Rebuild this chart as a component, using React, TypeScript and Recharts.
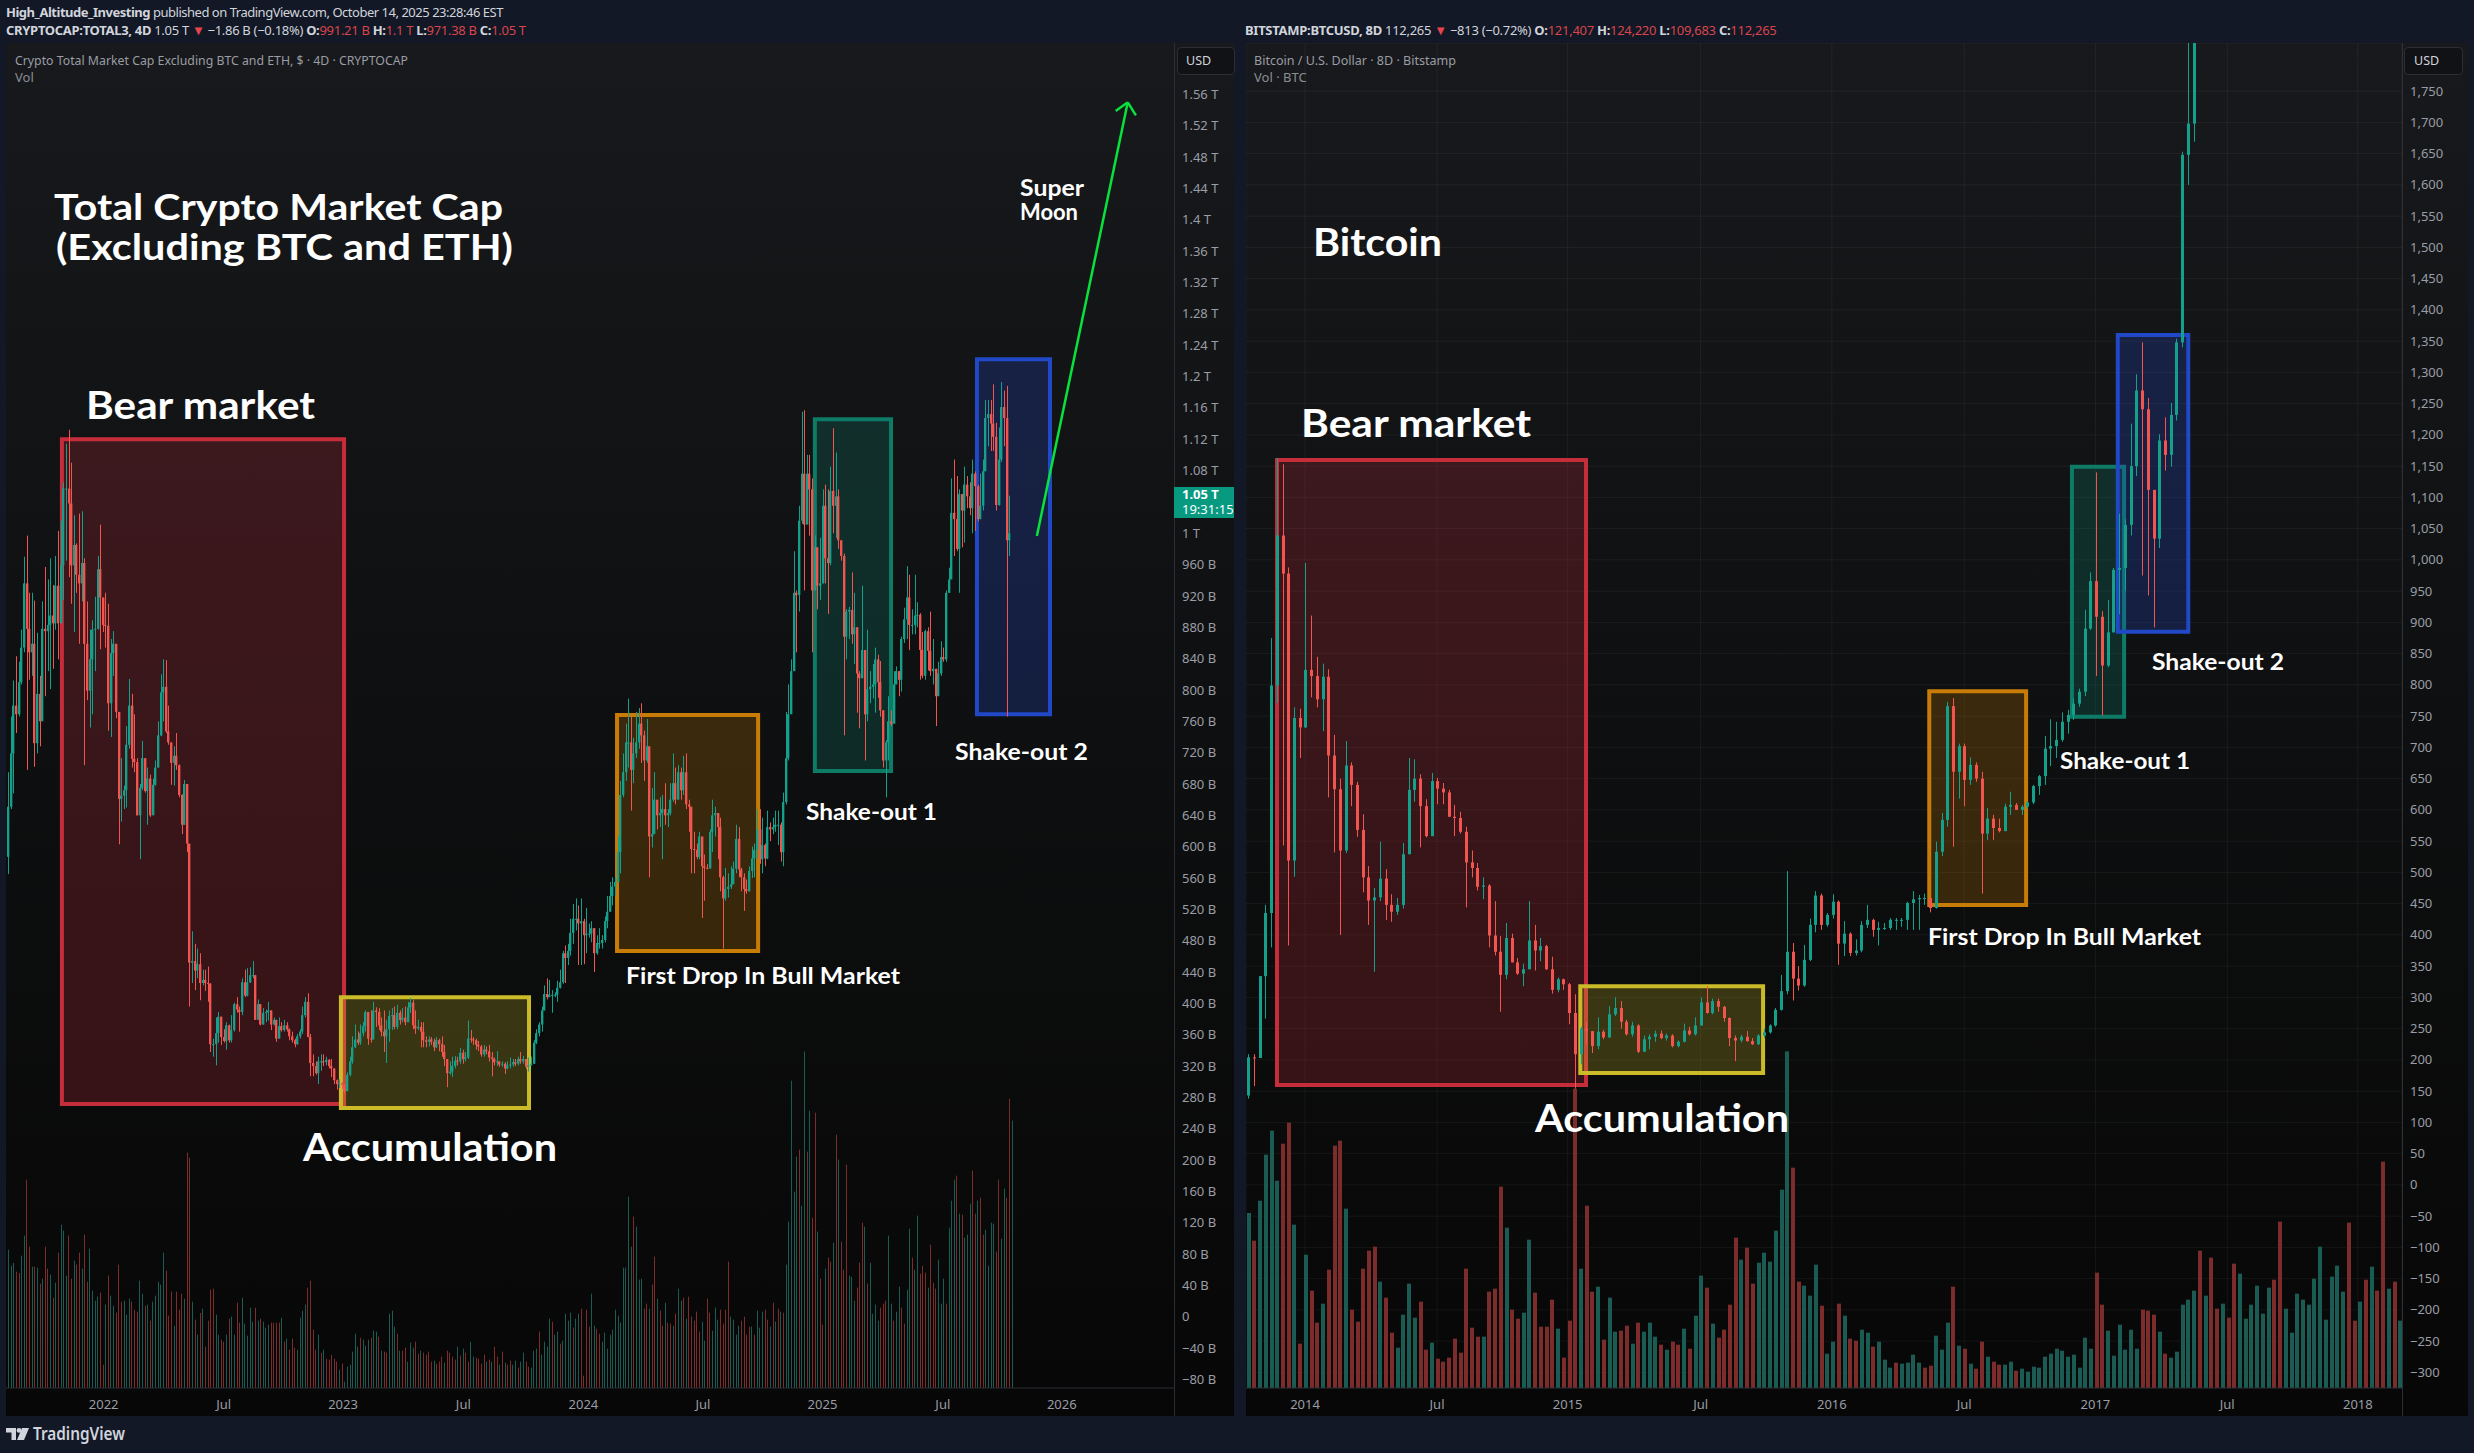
import { Bar, CartesianGrid, ComposedChart, ReferenceArea, ReferenceLine, XAxis, YAxis } from 'recharts';

// TOTAL3, 4D candles, values in $B. Open of a bar is the close of the one before it.
const total3FirstOpen = 587;
const total3Close = [
  651,719,780,769,810,854,936,878,848,859,732,795,760,878,875,883,895,885,933,885,
  959,1057,1057,1038,959,985,947,936,962,859,799,839,877,878,954,918,883,882,783,847,
  859,772,661,665,672,730,780,712,708,640,675,713,671,687,640,679,701,742,797,804,
  747,733,707,716,704,666,628,680,604,452,454,442,450,426,430,426,425,348,348,362,
  383,357,352,372,353,366,399,392,389,427,410,427,436,436,379,399,373,388,389,391,
  373,379,355,371,366,372,367,358,353,348,358,364,385,402,357,324,320,311,326,326,
  325,328,320,317,302,297,298,296,288,309,326,344,354,350,362,371,389,355,354,391,
  389,372,364,358,367,384,385,370,388,379,382,376,395,401,372,368,370,364,353,351,
  354,351,344,353,348,338,329,311,313,320,327,326,337,329,331,355,354,353,347,345,
  335,341,339,331,329,325,326,322,323,317,321,322,325,323,329,326,329,319,321,323,
  350,362,373,391,412,408,411,411,411,420,427,464,458,467,490,508,508,502,505,487,
  489,489,496,464,477,477,481,505,517,537,549,555,593,666,695,733,733,698,719,733,
  757,742,710,728,613,616,660,640,643,648,640,643,660,681,660,695,672,695,654,651,
  597,596,587,613,575,573,572,619,640,643,625,561,534,546,549,552,572,610,571,561,
  546,543,569,585,596,622,584,602,585,625,622,625,628,628,593,657,713,769,824,924,
  921,1016,1076,1011,1076,1056,927,982,933,936,1035,968,962,1054,1035,1047,991,971,868,900,
  902,871,880,821,815,851,769,801,804,807,839,810,774,710,733,760,757,807,824,813,
  865,890,918,883,883,895,896,851,818,875,850,824,827,792,821,842,839,924,941,1026,
  1018,980,1050,1029,1062,1047,1032,1076,1060,1018,1035,1079,1147,1152,1140,1123,1036,1094,1161,1147,
  991,1000,
];
const total3High = [
  695,766,812,843,836,877,970,997,924,924,914,873,818,913,957,941,968,934,971,1003,
  1016,1065,1114,1132,1090,1023,987,1025,1028,968,913,877,889,919,971,1011,918,924,910,865,
  875,855,760,713,678,754,814,795,769,713,680,735,713,701,692,687,710,760,820,839,
  838,780,733,728,745,705,667,685,680,603,492,476,470,464,443,443,447,426,355,382,
  389,383,367,376,373,385,401,408,396,432,443,445,446,454,436,405,399,394,392,402,
  391,382,379,382,376,379,376,368,364,355,361,367,396,408,413,361,335,326,332,335,
  335,332,329,329,317,303,303,300,297,312,332,358,373,364,373,376,391,389,391,402,
  395,394,382,391,379,391,394,396,398,391,394,396,402,407,405,391,379,376,376,358,
  358,357,355,357,355,358,347,329,326,332,333,332,343,341,338,378,366,357,355,352,
  347,347,345,347,338,331,339,326,326,325,326,331,329,329,332,338,333,329,331,332,
  353,367,376,396,423,432,430,417,414,429,443,467,474,476,508,527,534,525,534,508,
  522,502,505,496,487,496,487,511,537,555,561,561,613,684,719,757,789,766,739,772,
  777,783,748,763,728,675,695,657,663,666,681,648,681,719,701,704,701,716,719,660,
  637,619,604,619,587,590,578,622,660,651,640,637,563,573,566,575,581,628,625,573,
  566,558,575,600,604,648,648,637,604,646,631,637,646,646,631,669,772,807,839,977,
  927,1035,1155,1157,1100,1100,1070,997,982,994,1056,1062,1056,1085,1134,1103,1056,991,974,903,
  906,950,924,880,824,933,851,877,824,833,854,845,837,774,736,792,774,824,830,824,
  868,905,958,947,903,947,912,898,874,877,880,900,865,827,836,862,854,927,956,1070,
  1094,1073,1056,1032,1085,1073,1065,1094,1079,1062,1076,1094,1170,1170,1170,1190,1141,1135,1193,1182,
  1188,1048,
];
const total3Low = [
  565,648,668,745,766,807,848,698,813,818,702,719,728,795,792,824,801,827,877,839,
  899,915,965,944,910,874,924,859,913,704,787,752,769,824,877,852,874,854,748,740,
  818,764,603,632,648,650,725,701,695,640,584,672,669,628,638,643,678,701,741,760,
  745,730,679,678,698,663,616,628,593,396,426,417,432,404,423,416,402,338,332,321,
  350,347,350,341,350,350,364,388,364,385,408,409,426,432,379,384,372,373,376,378,
  366,372,351,355,364,364,364,353,350,344,347,355,361,382,357,307,307,309,297,314,
  320,321,317,306,297,290,292,291,285,288,307,323,343,347,347,358,364,347,350,354,
  370,366,358,338,324,351,366,367,367,373,376,372,378,388,367,361,366,344,344,344,
  345,347,339,343,339,332,320,293,309,306,317,321,323,323,326,329,350,347,341,339,
  332,332,335,326,307,321,320,319,319,310,316,317,319,320,321,323,323,316,313,321,
  323,348,358,364,391,405,408,388,408,402,419,425,426,449,461,476,493,449,449,450,
  464,484,478,440,462,470,470,478,496,517,525,537,555,566,663,684,701,646,681,713,
  725,707,684,707,561,599,622,622,625,584,628,625,640,657,654,666,660,666,648,619,
  566,566,584,584,509,531,571,596,593,613,584,543,470,531,535,546,555,566,561,543,
  518,540,543,560,561,584,578,566,575,584,607,616,619,602,581,575,654,710,780,824,
  848,900,1012,927,1035,997,848,927,903,915,936,936,897,959,1000,994,980,965,742,839,
  865,859,833,771,751,815,710,760,783,789,771,790,766,701,663,710,754,757,810,792,
  798,860,865,851,871,871,880,813,815,813,825,818,807,754,818,818,836,836,924,953,
  971,977,924,982,988,1032,1023,1000,1003,1015,1018,1029,1094,1111,1105,1105,1029,1035,1091,1111,
  766,971,
];
const total3Volume = [
  415,367,375,349,345,397,457,625,424,364,364,361,313,328,424,358,340,271,316,406,
  490,472,337,457,328,382,370,406,358,460,319,418,292,262,274,286,70,250,337,277,
  247,226,370,259,262,220,268,259,235,229,322,283,247,250,202,259,277,319,310,406,
  352,217,289,187,289,235,283,268,706,691,259,205,160,225,238,124,202,295,298,220,
  160,145,139,160,208,214,160,256,196,271,193,157,241,199,241,202,208,199,181,190,
  196,196,196,196,211,139,148,115,148,121,115,211,232,250,301,322,175,115,160,106,
  115,88,85,100,88,79,55,73,19,64,70,109,163,124,151,145,127,145,151,
  172,169,154,112,109,106,223,232,184,163,112,112,121,79,136,121,139,103,112,106,
  100,109,79,82,73,79,94,76,112,106,94,85,124,97,118,106,79,139,94,91,
  88,73,100,79,85,79,124,94,70,109,76,70,82,
  70,82,61,79,106,79,64,61,112,118,169,100,139,124,208,199,160,169,133,142,
  223,202,226,181,208,223,238,37,235,184,283,187,178,163,139,166,118,160,175,235,
  217,196,361,361,574,424,514,484,325,328,238,253,238,310,394,268,232,187,256,196,
  193,187,223,298,262,271,208,274,214,202,229,169,199,142,268,226,172,241,205,235,
  193,235,379,214,205,160,187,202,214,160,184,184,160,232,181,229,235,205,184,
  256,199,238,229,226,370,499,922,589,694,715,547,1009,709,832,511,826,469,328,190,358,391,379,436,760,
  685,439,355,670,337,334,262,301,376,496,484,313,376,223,250,202,241,253,262,457,
  253,202,229,304,241,193,295,478,391,355,517,343,367,346,301,430,316,298,385,253,
  328,253,481,562,625,637,523,520,451,460,553,652,523,562,571,460,475,367,496,493,
  409,625,448,598,571,868,802,
];
// g = up bar, r = down bar
const total3VolumeDir =
  'gggrrggrrg' + 'rgrgrrgrgr' + 'gggrrgrrgr' + 'rggggrrgrg' + 'grrrgggrrr' + 'ggrgrggggg' + 'rrrgrrrgrr' +
  'grgrgrrrrg' + 'grrgrggrrg' + 'ggggrgrggg' + 'rrrrgrgrrr' + 'ggggrrrrgr' + 'grrrrrgrgg' + 'ggggrgggr' +
  'ggrgrrgggr' + 'grrgggrrgr' + 'rrrgrrrgrr' + 'rrgrgrrggr' + 'rrrgrgrrgr' + 'grr' +
  'ggrggrrggg' + 'rggggrggrg' + 'gggrggrrrr' + 'ggrrgggggg' + 'ggggggrggg' + 'rrgrrgrrgr' + 'rgrggrgrrr' +
  'rrggrrgggr' + 'rrrggggrrr' + 'rgrgggrrg' + 'rgrgrggggg' + 'rggrgrrgrr' + 'grrgrgrrrg' + 'ggrrrgrggg' +
  'grrrggrggr' + 'rggrggrrrg' + 'rrrgggrggg' + 'rgrgggrrgr' + 'rggggrrggr' + 'rg';

// 1.04 T sits under the last price tag, so the axis does not print it
const total3PriceTicks = [
  -80,-40,0,40,80,120,160,200,240,280,320,360,400,440,480,520,560,600,640,680,720,760,800,840,880,920,960,
  1000,1080,1120,1160,1200,1240,1280,1320,1360,1400,1440,1480,1520,1560,
];
const total3TimeTicks = [36.3, 82, 127.4, 173.2, 218.9, 264.4, 309.9, 355.7, 401];
const total3TimeLabels = ['2022', 'Jul', '2023', 'Jul', '2024', 'Jul', '2025', 'Jul', '2026'];

// BTCUSD, 8D candles in USD. The last rows of the volume run past the top of the chart.
const btcFirstOpen = 143;
const btcClose = [
  204,203,334,435,799,1039,978,519,747,732,824,814,777,813,687,633,535,671,640,568,
  492,455,460,490,448,437,448,529,632,650,606,558,646,634,628,589,587,565,516,507,
  477,479,399,373,336,395,356,338,345,391,375,382,345,312,329,321,275,209,250,246,
  222,245,236,273,283,261,241,255,213,233,237,242,235,239,222,229,247,241,255,292,
  275,294,285,267,235,231,237,230,225,239,244,255,280,310,373,330,319,360,416,463,
  416,432,453,386,402,371,375,416,424,408,411,411,424,424,424,451,457,459,459,443,
  533,584,766,661,702,648,672,650,562,586,571,566,605,608,600,605,612,638,654,698,
  702,712,741,752,770,789,890,966,909,831,884,984,987,1056,1150,1271,1241,1112,1034,1191,
  1168,1232,1348,1648,1698,1950,
];
const btcHigh = [
  209,209,334,448,875,1163,1153,988,764,762,995,911,845,834,825,720,650,710,676,645,
  593,510,475,549,505,465,459,547,683,681,657,617,659,651,643,632,608,597,573,535,
  515,492,481,454,398,419,402,363,354,454,416,395,384,365,332,330,323,305,253,261,
  246,268,248,286,300,294,264,261,257,239,241,247,247,242,241,231,258,253,268,300,
  318,298,298,286,268,239,240,246,235,241,250,257,283,336,502,387,350,384,426,470,
  466,435,465,455,422,404,393,422,448,426,421,419,427,427,427,453,470,464,466,459,
  549,595,773,779,706,706,684,676,661,603,592,586,610,629,611,608,614,640,656,718,
  745,741,756,760,778,794,920,980,1140,918,936,987,1074,1065,1218,1297,1348,1259,1112,1201,
  1228,1251,1354,1653,1827,2000,
];
const btcLow = [
  138,158,203,266,380,771,543,383,493,683,731,780,764,726,620,532,400,531,606,557,
  468,416,341,454,424,421,432,442,529,613,540,556,558,609,609,589,558,562,444,492,
  471,457,380,367,277,329,356,336,318,345,343,358,344,306,308,312,257,154,193,224,
  211,217,233,235,270,250,239,237,211,213,217,229,233,231,220,220,228,239,239,255,
  274,273,277,261,222,198,228,229,224,224,235,242,253,279,305,295,311,317,358,404,
  408,413,426,352,366,366,367,372,411,397,383,408,408,408,413,408,408,408,448,436,
  442,526,573,541,618,606,640,645,466,552,552,564,566,592,600,592,602,609,624,640,
  670,683,709,722,744,765,782,888,814,751,828,884,913,950,1039,1134,975,943,892,1019,
  1143,1149,1223,1340,1600,1669,
];
const btcVolume = [
  525,442,562,700,772,622,733,796,490,133,400,292,196,253,355,727,742,538,235,199,
  358,412,424,319,271,166,121,220,313,211,259,115,136,88,79,91,148,106,358,181,
  154,154,289,298,604,481,235,208,226,445,286,184,184,265,178,91,202,898,358,547,
  289,304,145,271,169,172,187,133,196,169,196,154,130,115,139,130,178,118,217,337,
  301,193,151,175,250,451,385,421,313,376,406,379,472,595,1010,661,319,307,277,370,
  247,103,139,253,217,148,142,175,166,124,139,85,61,76,73,76,100,76,61,67,
  157,115,196,304,127,118,73,58,139,94,79,70,70,79,52,58,49,64,61,94,
  103,118,112,94,100,61,151,118,346,250,172,97,190,115,175,118,235,232,220,169,
  103,91,109,250,265,292,412,277,391,238,253,211,373,343,208,250,307,223,301,325,
  499,238,166,283,265,250,328,424,205,334,367,289,496,202,259,325,364,292,679,298,
  319,202,
];
const btcVolumeDir =
  'grggggrrgr' + 'grrgrrrgrr' + 'rrrgrrgggg' + 'rrgrrrrrrr' + 'rgrrrgrrgg' + 'rrrrgrrrgr' + 'rgrggrrgrg' +
  'ggrgrrgrgg' + 'rgrrrrgrrg' + 'gggggrrggg' + 'rggrgrrggr' + 'gggrggggrr' + 'gggrgrgrrg' + 'rrggrggggg' +
  'ggggggggrr' + 'ggggggrrrg' + 'rgggggrgrr' + 'grrggggggr' + 'rggggggggg' + 'ggrrgrgrrg' + 'rg';

const btcPriceTicks = [
  -300,-250,-200,-150,-100,-50,0,50,100,150,200,250,300,350,400,450,500,550,600,650,700,750,800,850,900,950,
  1000,1050,1100,1150,1200,1250,1300,1350,1400,1450,1500,1550,1600,1650,1700,1750,
];
const btcTimeTicks = [9.86, 32.9, 55.7, 78.9, 101.8, 124.9, 147.8, 170.8, 193.6];
const btcTimeLabels = ['2014', 'Jul', '2015', 'Jul', '2016', 'Jul', '2017', 'Jul', '2018'];

const UP = '#15a08c';
const DOWN = '#f2554f';
const VOL_UP = '#1a5c54';
const VOL_DOWN = '#7d2c2c';
const AXIS_TEXT = '#9a9da5';
const FONT = '"Noto Sans", sans-serif';
const TITLE_FONT = 'Lato, sans-serif';

type Row = { i: number; vol: number; dir: string; open?: number; close?: number; high?: number; low?: number };

function buildRows(firstOpen: number, close: number[], high: number[], low: number[], vol: number[], dir: string): Row[] {
  return vol.map((v, i) => ({
    i,
    vol: v,
    dir: dir[i],
    open: i < close.length ? (i === 0 ? firstOpen : close[i - 1]) : undefined,
    close: close[i],
    high: high[i],
    low: low[i],
  }));
}

const candleRange = (r: Row) => (r.close == null ? null : [r.low, r.high]);

function CandleShape(props: any) {
  const { x, y, width, height, payload } = props;
  if (payload.close == null || !height) return null;
  const { open, close, high, low } = payload;
  const perUnit = Math.abs(height) / (high - low);
  const cx = Math.round(x + width / 2);
  const color = close >= open ? UP : DOWN;
  const top = y + (high - Math.max(open, close)) * perUnit;
  const bodyH = Math.max(1, Math.abs(open - close) * perUnit);
  return (
    <g>
      <line x1={cx + 0.5} x2={cx + 0.5} y1={y} y2={y + Math.abs(height)} stroke={color} strokeWidth={1} />
      <rect x={cx - Math.floor(width / 2)} y={top} width={width} height={bodyH} fill={color} />
    </g>
  );
}

function VolumeShape(props: any) {
  const { x, y, width, height, payload } = props;
  return <rect x={Math.round(x)} y={y} width={width} height={height} fill={payload.dir === 'g' ? VOL_UP : VOL_DOWN} />;
}

function totalPriceLabel(v: number) {
  if (v < 0) return `\u2212${-v} B`;
  if (v === 0) return '0';
  if (v < 1000) return `${v} B`;
  return `${v / 1000} T`;
}

function btcPriceLabel(v: number) {
  if (v < 0) return `\u2212${-v}`;
  return v.toLocaleString('en-US');
}

type BoxSpec = { x1: number; x2: number; y1: number; y2: number; color: string; alpha: number };

const total3Boxes: BoxSpec[] = [
  { x1: 20.4, x2: 127.8, y1: 271.6, y2: 1120, color: '#c62d3a', alpha: 0.24 },
  { x1: 126.6, x2: 198.2, y1: 266.4, y2: 408, color: '#cbbb28', alpha: 0.24 },
  { x1: 231.7, x2: 285.4, y1: 467, y2: 768, color: '#c97c05', alpha: 0.24 },
  { x1: 307, x2: 336, y1: 696.6, y2: 1145.6, color: '#0e7b67', alpha: 0.27 },
  { x1: 368.7, x2: 396.5, y1: 769, y2: 1222, color: '#2148c7', alpha: 0.26 },
];
const btcBoxes: BoxSpec[] = [
  { x1: 4.97, x2: 58.9, y1: 160, y2: 1160, color: '#c62d3a', alpha: 0.24 },
  { x1: 57.9, x2: 89.8, y1: 179, y2: 318, color: '#cbbb28', alpha: 0.24 },
  { x1: 118.8, x2: 135.7, y1: 448, y2: 790, color: '#c97c05', alpha: 0.24 },
  { x1: 143.7, x2: 152.8, y1: 749, y2: 1149, color: '#0e7b67', alpha: 0.27 },
  { x1: 151.7, x2: 164, y1: 885, y2: 1360, color: '#2148c7', alpha: 0.26 },
];

function Panel(props: {
  left: number;
  width: number;
  axisWidth: number;
  rows: Row[];
  xDomain: [number, number];
  yDomain: [number, number];
  priceTicks: number[];
  priceLabel: (v: number) => string;
  timeTicks: number[];
  timeLabels: string[];
  bodyWidth: number;
  volWidth: number;
  boxes: BoxSpec[];
  grid: boolean;
  children?: any;
}) {
  const { left, width, axisWidth, rows, xDomain, yDomain, priceTicks, priceLabel, timeTicks, timeLabels } = props;
  const tickStyle = { fill: AXIS_TEXT, fontSize: 13, fontFamily: FONT };
  return (
    <div
      style={{
        position: 'absolute',
        left,
        top: 43,
        width,
        height: 1373,
        overflow: 'hidden',
        background: 'linear-gradient(#18191c 0%, #0f1011 45%, #070707 100%)',
      }}
    >
      <div style={{ position: 'absolute', left: width - axisWidth, top: 0, bottom: 0, width: 1, background: '#2a2d33' }} />
      <ComposedChart
        width={width}
        height={1373}
        data={rows}
        margin={{ top: 0, right: 0, bottom: 0, left: 0 }}
        barGap={0}
      >
        {props.grid && (
          <CartesianGrid stroke="#ffffff" strokeOpacity={0.05} horizontal vertical />
        )}
        <XAxis
          type="number"
          dataKey="i"
          domain={xDomain}
          allowDataOverflow
          ticks={timeTicks}
          interval={0}
          height={28}
          tickLine={false}
          axisLine={{ stroke: '#2a2d33' }}
          tick={tickStyle}
          tickMargin={6}
          tickFormatter={(v: number) => timeLabels[timeTicks.indexOf(v)]}
        />
        <XAxis xAxisId="vol" type="number" dataKey="i" domain={xDomain} allowDataOverflow hide />
        <YAxis
          orientation="right"
          type="number"
          domain={yDomain}
          allowDataOverflow
          ticks={priceTicks}
          interval={0}
          width={axisWidth}
          tickLine={false}
          axisLine={false}
          tick={tickStyle}
          tickMargin={2}
          tickFormatter={priceLabel}
        />
        <YAxis yAxisId="vol" type="number" domain={[0, 4035]} allowDataOverflow hide />
        <Bar
          xAxisId="vol"
          yAxisId="vol"
          dataKey="vol"
          barSize={props.volWidth}
          shape={VolumeShape}
          isAnimationActive={false}
        />
        <Bar dataKey={candleRange} barSize={props.bodyWidth} shape={CandleShape} isAnimationActive={false} />
        {props.boxes.map((b, k) => (
          <ReferenceArea
            key={k}
            x1={b.x1}
            x2={b.x2}
            y1={b.y1}
            y2={b.y2}
            fill={b.color}
            fillOpacity={b.alpha}
            stroke={b.color}
            strokeWidth={4}
            ifOverflow="visible"
          />
        ))}
        {props.children}
      </ComposedChart>
    </div>
  );
}

function Note(props: { x: number; y: number; size: number; children: string; weight?: number; family?: string; fill?: string; len?: number }) {
  return (
    <text
      x={props.x}
      y={props.y}
      fontSize={props.size}
      fontWeight={props.weight ?? 700}
      fontFamily={props.family ?? TITLE_FONT}
      fill={props.fill ?? '#ffffff'}
      textLength={props.len}
      lengthAdjust="spacingAndGlyphs"
    >
      {props.children}
    </text>
  );
}

const total3Rows = buildRows(total3FirstOpen, total3Close, total3High, total3Low, total3Volume, total3VolumeDir);
const btcRows = buildRows(btcFirstOpen, btcClose, btcHigh, btcLow, btcVolume, btcVolumeDir);

export default function App() {
  const arrow = { stroke: '#08e23c', strokeWidth: 2.5 };
  return (
    <div style={{ position: 'absolute', left: 0, top: 0, width: 2474, height: 1453, background: '#121825', overflow: 'hidden' }}>
      <Panel
        left={6}
        width={1228}
        axisWidth={60}
        rows={total3Rows}
        xDomain={[-0.88, 443.7]}
        yDomain={[-90.8, 1625.6]}
        priceTicks={total3PriceTicks}
        priceLabel={totalPriceLabel}
        timeTicks={total3TimeTicks}
        timeLabels={total3TimeLabels}
        bodyWidth={3}
        volWidth={1}
        boxes={total3Boxes}
        grid={false}
      >
        <ReferenceLine segment={[{ x: 391.5, y: 996.4 }, { x: 426.1, y: 1549.9 }]} {...arrow} ifOverflow="visible" />
        <ReferenceLine segment={[{ x: 421.5, y: 1538.8 }, { x: 426.1, y: 1549.9 }]} {...arrow} ifOverflow="visible" />
        <ReferenceLine segment={[{ x: 429.2, y: 1533.3 }, { x: 426.1, y: 1549.9 }]} {...arrow} ifOverflow="visible" />
      </Panel>
      <Panel
        left={1246}
        width={1222}
        axisWidth={66}
        rows={btcRows}
        xDomain={[-0.44, 201.3]}
        yDomain={[-325, 1827]}
        priceTicks={btcPriceTicks}
        priceLabel={btcPriceLabel}
        timeTicks={btcTimeTicks}
        timeLabels={btcTimeLabels}
        bodyWidth={3}
        volWidth={4}
        boxes={btcBoxes}
        grid
      />

      {/* last price tag and currency buttons */}
      <div style={{ position: 'absolute', left: 1174, top: 487, width: 60, height: 31, background: '#089981', color: '#fff', fontFamily: FONT, fontSize: 13, lineHeight: '15px', paddingTop: 0, boxSizing: 'border-box', textIndent: 8 }}>
        <div style={{ fontWeight: 700 }}>1.05 T</div>
        <div>19:31:15</div>
      </div>
      <div style={{ position: 'absolute', left: 1177, top: 47, width: 56, height: 26, background: '#111215', border: '1px solid #2c2e33', borderRadius: 4, color: '#d1d4dc', fontFamily: FONT, fontSize: 12.5, lineHeight: '26px', textIndent: 8 }}>USD</div>
      <div style={{ position: 'absolute', left: 2404, top: 47, width: 57, height: 26, background: '#111215', border: '1px solid #2c2e33', borderRadius: 4, color: '#d1d4dc', fontFamily: FONT, fontSize: 12.5, lineHeight: '26px', textIndent: 9 }}>USD</div>

      <svg width={2474} height={1453} style={{ position: 'absolute', left: 0, top: 0, pointerEvents: 'none' }}>
        {/* header */}
        <text x={6} y={17} fontFamily={FONT} fontSize={13} letterSpacing={-0.48} fill="#d1d4dc">
          <tspan fontWeight={700}>High_Altitude_Investing</tspan> published on TradingView.com, October 14, 2025 23:28:46 EST
        </text>
        <text x={6} y={35} fontFamily={FONT} fontSize={13} letterSpacing={-0.3} fill="#d1d4dc">
          <tspan fontWeight={700}>CRYPTOCAP:TOTAL3, 4D</tspan> 1.05 T <tspan fill="#e5454c">▼</tspan> −1.86 B (−0.18%) <tspan fontWeight={700}>O:</tspan><tspan fill="#d9454c">991.21 B</tspan> <tspan fontWeight={700}>H:</tspan><tspan fill="#d9454c">1.1 T</tspan> <tspan fontWeight={700}>L:</tspan><tspan fill="#d9454c">971.38 B</tspan> <tspan fontWeight={700}>C:</tspan><tspan fill="#d9454c">1.05 T</tspan>
        </text>
        <text x={1245} y={35} fontFamily={FONT} fontSize={13} letterSpacing={-0.28} fill="#d1d4dc">
          <tspan fontWeight={700}>BITSTAMP:BTCUSD, 8D</tspan> 112,265 <tspan fill="#e5454c">▼</tspan> −813 (−0.72%) <tspan fontWeight={700}>O:</tspan><tspan fill="#d9454c">121,407</tspan> <tspan fontWeight={700}>H:</tspan><tspan fill="#d9454c">124,220</tspan> <tspan fontWeight={700}>L:</tspan><tspan fill="#d9454c">109,683</tspan> <tspan fontWeight={700}>C:</tspan><tspan fill="#d9454c">112,265</tspan>
        </text>

        {/* legends */}
        <Note x={15} y={65} size={13} weight={400} family={FONT} fill="#9a9da5" len={393}>Crypto Total Market Cap Excluding BTC and ETH, $ · 4D · CRYPTOCAP</Note>
        <Note x={15} y={82} size={13} weight={400} family={FONT} fill="#8a8d95">Vol</Note>
        <Note x={1254} y={65} size={13} weight={400} family={FONT} fill="#9a9da5" len={202}>Bitcoin / U.S. Dollar · 8D · Bitstamp</Note>
        <Note x={1254} y={82} size={13} weight={400} family={FONT} fill="#8a8d95">Vol · BTC</Note>

        {/* left panel notes */}
        <Note x={54} y={220} size={37} len={449}>Total Crypto Market Cap</Note>
        <Note x={56} y={260} size={37} len={457}>(Excluding BTC and ETH)</Note>
        <Note x={86} y={419} size={39} len={229}>Bear market</Note>
        <Note x={303} y={1161} size={39} len={254}>Accumulation</Note>
        <Note x={626} y={984} size={23} len={274}>First Drop In Bull Market</Note>
        <Note x={806} y={820} size={23} len={131}>Shake-out 1</Note>
        <Note x={955} y={760} size={23} len={133}>Shake-out 2</Note>
        <Note x={1020} y={196} size={22} len={64}>Super</Note>
        <Note x={1020} y={220} size={22} len={58}>Moon</Note>

        {/* right panel notes */}
        <Note x={1313} y={256} size={39} len={129}>Bitcoin</Note>
        <Note x={1301} y={437} size={39} len={230}>Bear market</Note>
        <Note x={1535} y={1132} size={39} len={254}>Accumulation</Note>
        <Note x={1928} y={945} size={23} len={273}>First Drop In Bull Market</Note>
        <Note x={2060} y={769} size={23} len={130}>Shake-out 1</Note>
        <Note x={2152} y={670} size={23} len={132}>Shake-out 2</Note>

        {/* footer logo */}
        <path d="M6 1428h10v12h-4.5v-7.5H6z" fill="#d1d4dc" />
        <circle cx={19} cy={1430.4} r={2.4} fill="#d1d4dc" />
        <path d="M22 1428h7l-5 12h-7z" fill="#d1d4dc" />
        <Note x={33} y={1440} size={17} weight={600} family={FONT} fill="#d1d4dc" len={92}>TradingView</Note>
      </svg>
    </div>
  );
}
